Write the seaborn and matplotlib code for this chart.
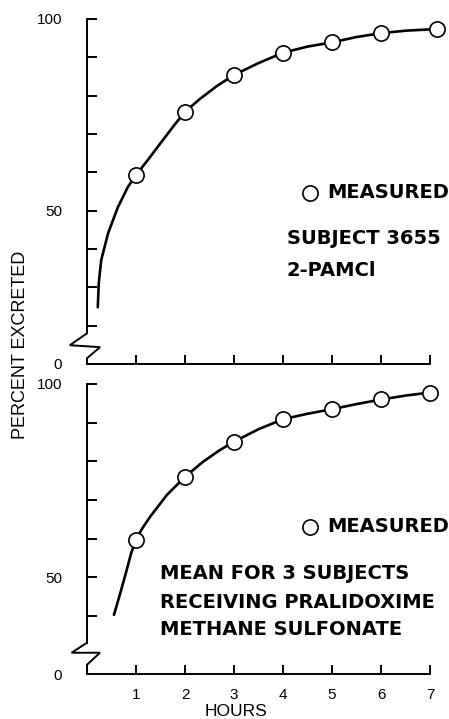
import matplotlib
matplotlib.use("Agg")
import matplotlib.pyplot as plt
import seaborn as sns
import pandas as pd

# measured points (hours, percent excreted)
top_hours = [1, 2, 3, 4, 5, 6, 7.15]
top_pct = [59.3, 75.8, 85.4, 91.2, 93.9, 96.3, 97.4]
bot_hours = [1, 2, 3, 4, 5, 6, 7]
bot_pct = [59.7, 76.0, 85.1, 90.9, 93.5, 96.0, 97.8]

# fitted curves
top_curve_t = [0.22, 0.24, 0.26, 0.29, 0.43, 0.63, 0.83, 1.0, 1.24, 1.5, 1.78, 2.0,
               2.31, 2.66, 3.0, 3.5, 4.0, 4.5, 5.0, 5.5, 6.0, 6.5, 7.15]
top_curve_v = [24.8, 31.0, 33.6, 37.1, 44.1, 50.9, 56.1, 59.3, 63.2, 67.6, 72.3, 75.8,
               79.2, 82.6, 85.4, 88.5, 91.2, 92.8, 93.9, 95.3, 96.3, 96.95, 97.4]
bot_curve_t = [0.55, 0.67, 0.81, 0.9, 1.0, 1.12, 1.29, 1.63, 2.0, 2.37, 2.71, 3.0, 3.5,
               4.0, 4.5, 5.0, 5.5, 6.0, 6.5, 7.0]
bot_curve_v = [40.3, 45.5, 51.9, 56.2, 59.7, 62.5, 65.7, 71.3, 76.0, 79.9, 82.9, 85.1,
               88.3, 90.9, 92.3, 93.5, 94.8, 96.0, 97.0, 97.8]

top_text = ["SUBJECT 3655", "2-PAMCl"]
bot_text = ["MEAN FOR 3 SUBJECTS", "RECEIVING PRALIDOXIME", "METHANE SULFONATE"]
hour_ticks = [1, 2, 3, 4, 5, 6, 7]

sns.set_style("ticks")
plt.rcParams['font.family'] = ['Liberation Sans', 'DejaVu Sans']
plt.rcParams.update({'text.color': 'black', 'axes.labelcolor': 'black',
                     'xtick.color': 'black', 'ytick.color': 'black',
                     'axes.edgecolor': 'black'})

fig = plt.figure(figsize=(4.49, 7.19), dpi=100)
W, H = 449, 719
ax1 = fig.add_axes([87 / W, 1 - 364 / H, 343 / W, 345 / H])
ax2 = fig.add_axes([87 / W, 1 - 674 / H, 343 / W, 290 / H])

panels = [
    (ax1, top_hours, top_pct, top_curve_t, top_curve_v, 10, list(range(20, 101, 10)),
     18.0, [(0, 18.0), (-0.05, 14.9), (0.038, 14.4), (0, 11.5), (0, 10)],
     top_text, 0.583, [0.365, 0.272], 0.496),
    (ax2, bot_hours, bot_pct, bot_curve_t, bot_curve_v, 25, list(range(40, 101, 10)),
     33.1, [(0, 33.1), (-0.045, 30.5), (0.038, 30.5), (0, 27.4), (0, 25)],
     bot_text, 0.213, [0.345, 0.248, 0.152], 0.507),
]

for (ax, hx, hy, ct, cv, ybot, yt, spine_lo, zig, texts, tx, tys, leg_y) in panels:
    curve = pd.DataFrame({'t': ct, 'v': cv})
    meas = pd.DataFrame({'t': hx, 'v': hy})
    sns.lineplot(data=curve, x='t', y='v', sort=False, estimator=None,
                 color='black', lw=1.9, ax=ax, zorder=2)
    sns.scatterplot(data=meas, x='t', y='v', s=120, color='white',
                    edgecolor='black', linewidth=1.2, label='MEASURED',
                    ax=ax, zorder=3, clip_on=False)

    ax.set_xlim(0, 7)
    ax.set_ylim(ybot, 100)
    ax.set_xlabel('')
    ax.set_ylabel('')
    ax.set_xticks(hour_ticks)
    ax.set_yticks([ybot] + yt)
    ax.set_yticklabels(['0'] + ['100' if v == 100 else ('50' if v == 50 else '') for v in yt])
    ax.yaxis.get_major_ticks()[0].tick1line.set_visible(False)
    ax.tick_params(axis='y', direction='in', length=7, width=1.4, pad=18, labelsize=11)
    ax.tick_params(axis='x', direction='in', length=6.5, width=1.4, pad=10, labelsize=11)

    sns.despine(ax=ax)
    ax.spines['left'].set_bounds(spine_lo, 100)
    ax.spines['left'].set_linewidth(1.4)
    ax.spines['bottom'].set_linewidth(1.4)

    # axis break zigzag
    tr = matplotlib.transforms.blended_transform_factory(ax.transAxes, ax.transData)
    ax.plot([p[0] for p in zig], [p[1] for p in zig], color='black', lw=1.4,
            transform=tr, clip_on=False, solid_joinstyle='miter')

    leg = ax.legend(loc='center right', bbox_to_anchor=(1.055, leg_y), frameon=False,
                    borderaxespad=0, borderpad=0, handlelength=0.8, handletextpad=0.45,
                    prop={'family': 'DejaVu Sans', 'weight': 'bold', 'size': 14})
    for txt, ty in zip(texts, tys):
        ax.text(tx, ty, txt, transform=ax.transAxes, ha='left', va='center',
                fontsize=14, fontweight='bold', family='DejaVu Sans')

ax1.tick_params(axis='x', labelbottom=False)

fig.text(21 / W, 1 - 345 / H, 'PERCENT EXCRETED', rotation=90, ha='center', va='center',
         fontsize=13)
fig.text(236 / W, 1 - 711 / H, 'HOURS', ha='center', va='center', fontsize=12.5)

fig.savefig('out.png', dpi=100)
